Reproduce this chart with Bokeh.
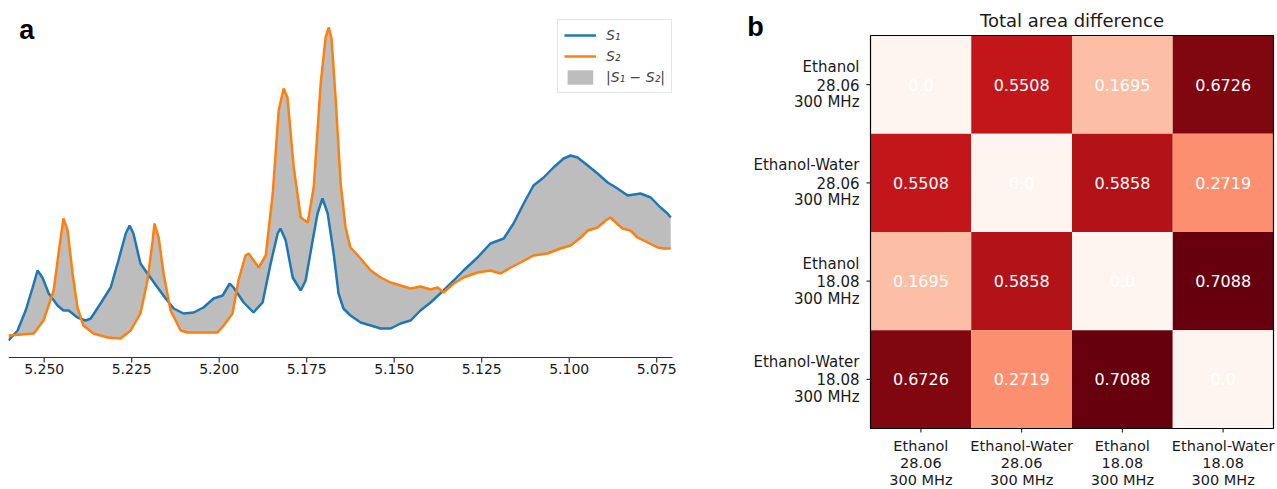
from bokeh.plotting import figure
from bokeh.models import Range1d, Legend, LegendItem, LinearColorMapper, ColumnDataSource
from bokeh.layouts import row
from bokeh.embed import file_html
from bokeh.resources import INLINE
from bokeh.core.properties import value

# ---------------- data: panel a (chemical shift in ppm, intensity a.u.) ----------------
s1_ppm = [5.2602, 5.2576, 5.2553, 5.2533, 5.2519, 5.2505, 5.2487, 5.2462, 5.2445, 5.2430,
          5.2405, 5.2382, 5.2367, 5.2339, 5.2310, 5.2288, 5.2267, 5.2256, 5.2245, 5.2225,
          5.2205, 5.2176, 5.2153, 5.2130, 5.2102, 5.2073, 5.2045, 5.2016, 5.1990, 5.1970,
          5.1959, 5.1930, 5.1902, 5.1876, 5.1853, 5.1833, 5.1825, 5.1810, 5.1790, 5.1767,
          5.1753, 5.1733, 5.1719, 5.1705, 5.1690, 5.1673, 5.1659, 5.1645, 5.1625, 5.1596,
          5.1567, 5.1539, 5.1510, 5.1482, 5.1453, 5.1425, 5.1396, 5.1359, 5.1330, 5.1302,
          5.1262, 5.1225, 5.1187, 5.1159, 5.1130, 5.1102, 5.1073, 5.1045, 5.1016, 5.0996,
          5.0976, 5.0947, 5.0919, 5.0890, 5.0862, 5.0833, 5.0796, 5.0767, 5.0739, 5.0719,
          5.0710]
s1_int = [20, 30, 50, 73, 90, 83, 67, 55, 50, 50,
          43, 40, 42, 57, 73, 100, 127, 135, 127, 97,
          87, 73, 62, 52, 47, 48, 53, 62, 65, 77,
          73, 58, 48, 58, 97, 127, 132, 120, 83, 70,
          80, 120, 147, 162, 147, 107, 67, 52, 45, 38,
          35, 32, 32, 37, 40, 50, 58, 70, 80, 90,
          103, 117, 122, 137, 157, 175, 183, 193, 202, 205,
          203, 195, 187, 178, 172, 165, 167, 163, 153, 147,
          143]

s2_ppm = [5.2602, 5.2530, 5.2502, 5.2473, 5.2459, 5.2445, 5.2433, 5.2419, 5.2405, 5.2388,
          5.2359, 5.2319, 5.2282, 5.2253, 5.2225, 5.2205, 5.2190, 5.2185, 5.2173, 5.2159,
          5.2139, 5.2110, 5.2090, 5.2053, 5.2005, 5.1987, 5.1962, 5.1945, 5.1925, 5.1916,
          5.1887, 5.1867, 5.1847, 5.1830, 5.1816, 5.1805, 5.1787, 5.1767, 5.1747, 5.1730,
          5.1710, 5.1696, 5.1687, 5.1679, 5.1667, 5.1653, 5.1639, 5.1625, 5.1596, 5.1567,
          5.1539, 5.1510, 5.1482, 5.1453, 5.1425, 5.1396, 5.1376, 5.1359, 5.1330, 5.1302,
          5.1262, 5.1225, 5.1196, 5.1167, 5.1139, 5.1102, 5.1062, 5.1025, 5.0996, 5.0967,
          5.0947, 5.0919, 5.0896, 5.0882, 5.0867, 5.0848, 5.0825, 5.0805, 5.0776, 5.0747,
          5.0730, 5.0710]
s2_int = [25, 27, 40, 70, 107, 142, 130, 87, 53, 35,
          27, 23, 22, 30, 47, 80, 120, 137, 123, 87,
          50, 30, 28, 28, 28, 35, 47, 80, 105, 107,
          93, 105, 167, 250, 272, 263, 193, 143, 138, 173,
          277, 323, 333, 322, 260, 177, 133, 113, 102, 90,
          83, 78, 75, 72, 74, 71, 73, 68, 77, 83,
          88, 90, 87, 93, 98, 105, 107, 112, 115, 123,
          130, 133, 140, 143, 138, 132, 130, 123, 118, 113,
          112, 112]

x_ticks = [5.250, 5.225, 5.200, 5.175, 5.150, 5.125, 5.100, 5.075]
x_tick_labels = ["5.250", "5.225", "5.200", "5.175", "5.150", "5.125", "5.100", "5.075"]

# ---------------- data: panel b ----------------
samples = ["Ethanol\n28.06\n300 MHz", "Ethanol-Water\n28.06\n300 MHz",
           "Ethanol\n18.08\n300 MHz", "Ethanol-Water\n18.08\n300 MHz"]
area_diff = [[0.0, 0.5508, 0.1695, 0.6726],
             [0.5508, 0.0, 0.5858, 0.2719],
             [0.1695, 0.5858, 0.0, 0.7088],
             [0.6726, 0.2719, 0.7088, 0.0]]

FONT = "DejaVu Sans"
BLUE = "#1f77b4"
ORANGE = "#ff7f0e"
TXT = "#1a1a1a"
AXC = "#333333"

# ================= panel a =================
X0, X1 = 5.2602, 5.0705          # ppm window covered by the spine (reversed axis)
X_END = 5.0682                   # a little room on the right for the last tick label
BASE = 3                         # intensity level of the bottom spine
p1 = figure(width=680, height=489, output_backend="svg", toolbar_location=None,
            x_range=Range1d(X0, X_END), y_range=Range1d(-129, 349),
            min_border_left=8, min_border_right=0, min_border_top=11, min_border_bottom=0)
p1.outline_line_color = None
p1.grid.visible = False
p1.xaxis.visible = False
p1.yaxis.visible = False

patch_x = s1_ppm + s2_ppm[::-1]
patch_y = s1_int + s2_int[::-1]
r_fill = p1.patch(patch_x, patch_y, fill_color="#bdbdbd", line_color=None)
r1 = p1.line(s1_ppm, s1_int, line_color=BLUE, line_width=2.5)
r2 = p1.line(s2_ppm, s2_int, line_color=ORANGE, line_width=2.5)

# bottom spine with ticks and tick labels
p1.segment(x0=[X0], y0=[BASE], x1=[X1], y1=[BASE], line_color=AXC, line_width=1.2)
p1.segment(x0=x_ticks, y0=[BASE] * len(x_ticks), x1=x_ticks, y1=[BASE - 5] * len(x_ticks),
           line_color=AXC, line_width=1.2)
p1.text(x=x_ticks, y=[BASE] * len(x_ticks), text=x_tick_labels, y_offset=6,
        text_align="center", text_baseline="top", text_color=TXT,
        text_font=value(FONT), text_font_size="14px")

p1.text(x=[5.2550], y=[331], text=["a"], text_align="center", text_baseline="middle",
        text_font=value("Liberation Sans"), text_font_style="bold",
        text_font_size="27px", text_color="black")

legend = Legend(items=[LegendItem(label="S\u2081", renderers=[r1]),
                       LegendItem(label="S\u2082", renderers=[r2]),
                       LegendItem(label="|S\u2081 \u2212 S\u2082|", renderers=[r_fill])],
                location="top_right")
legend.label_text_font = FONT
legend.label_text_font_style = "italic"
legend.label_text_font_size = "14px"
legend.glyph_width = 32
legend.glyph_height = 18
legend.label_height = 18
legend.label_standoff = 10
legend.spacing = 3
legend.padding = 6
legend.margin = 8
legend.border_line_color = "#cccccc"
legend.background_fill_alpha = 0.8
p1.add_layout(legend, "center")

# ================= panel b =================
reds9 = ["#fff5f0", "#fee0d2", "#fcbba1", "#fc9272", "#fb6a4a",
         "#ef3b2c", "#cb181d", "#a50f15", "#67000d"]


def _interp(pal, n):
    rgb = [tuple(int(c[i:i + 2], 16) for i in (1, 3, 5)) for c in pal]
    out = []
    for k in range(n):
        t = k / (n - 1) * (len(rgb) - 1)
        i = min(int(t), len(rgb) - 2)
        f = t - i
        c = [round(rgb[i][j] + (rgb[i + 1][j] - rgb[i][j]) * f) for j in range(3)]
        out.append("#%02x%02x%02x" % tuple(c))
    return out


all_vals = [v for r in area_diff for v in r]
mapper = LinearColorMapper(palette=_interp(reds9, 256), low=min(all_vals), high=max(all_vals))

n = len(samples)
xs, ys, vs, ts = [], [], [], []
for i, r in enumerate(area_diff):
    for j, v in enumerate(r):
        xs.append(j + 0.5)
        ys.append(i + 0.5)
        vs.append(v)
        ts.append(str(v))
src = ColumnDataSource(dict(x=xs, y=ys, v=vs, t=ts))

p2 = figure(width=597, height=489, output_backend="svg", toolbar_location=None,
            x_range=Range1d(-1.8859, n + 0.0397), y_range=Range1d(n + 0.6209, -0.2443),
            min_border_left=0, min_border_right=0, min_border_top=11, min_border_bottom=0)
p2.grid.visible = False
p2.outline_line_color = None
p2.xaxis.visible = False
p2.yaxis.visible = False

p2.rect(x="x", y="y", width=1, height=1, source=src,
        fill_color={"field": "v", "transform": mapper}, line_color=None)
p2.text(x="x", y="y", text="t", source=src, text_align="center", text_baseline="middle",
        text_color="white", text_font=value(FONT), text_font_size="16px")
# frame around the matrix
p2.rect(x=[n / 2], y=[n / 2], width=[n], height=[n], fill_color=None,
        line_color="black", line_width=1.2)

centers = [k + 0.5 for k in range(n)]
# ticks
p2.segment(x0=[0] * n, y0=centers, x1=[-0.04] * n, y1=centers, line_color=AXC, line_width=1.2)
p2.segment(x0=centers, y0=[n] * n, x1=centers, y1=[n + 0.04] * n, line_color=AXC, line_width=1.2)

# tick labels, one text per line
lx, ly, lt, lo = [], [], [], []   # row labels (left, right-aligned)
bx, by, bt, bo = [], [], [], []   # column labels (below, centred)
for c, s in zip(centers, samples):
    parts = s.split("\n")
    for k, part in enumerate(parts):
        lx.append(0)
        ly.append(c)
        lt.append(part)
        lo.append((k - (len(parts) - 1) / 2) * 17.5)
        bx.append(c)
        by.append(n)
        bt.append(part)
        bo.append(18 + k * 17)
p2.text(x=lx, y=ly, text=lt, y_offset=lo, x_offset=-11, text_align="right",
        text_baseline="middle", text_color=TXT, text_font=value(FONT),
        text_font_size="15px")
p2.text(x=bx, y=by, text=bt, y_offset=bo, text_align="center",
        text_baseline="middle", text_color=TXT, text_font=value(FONT),
        text_font_size="14.5px")

p2.text(x=[n / 2], y=[0], text=["Total area difference"], y_offset=-15,
        text_align="center", text_baseline="middle", text_color=TXT,
        text_font=value(FONT), text_font_size="18px")
p2.text(x=[-1.141], y=[0], text=["b"], y_offset=-9, text_align="center",
        text_baseline="middle", text_font=value("Liberation Sans"),
        text_font_style="bold", text_font_size="27px", text_color="black")

layout = row(p1, p2)
open("out.html", "w").write(file_html(layout, INLINE))
